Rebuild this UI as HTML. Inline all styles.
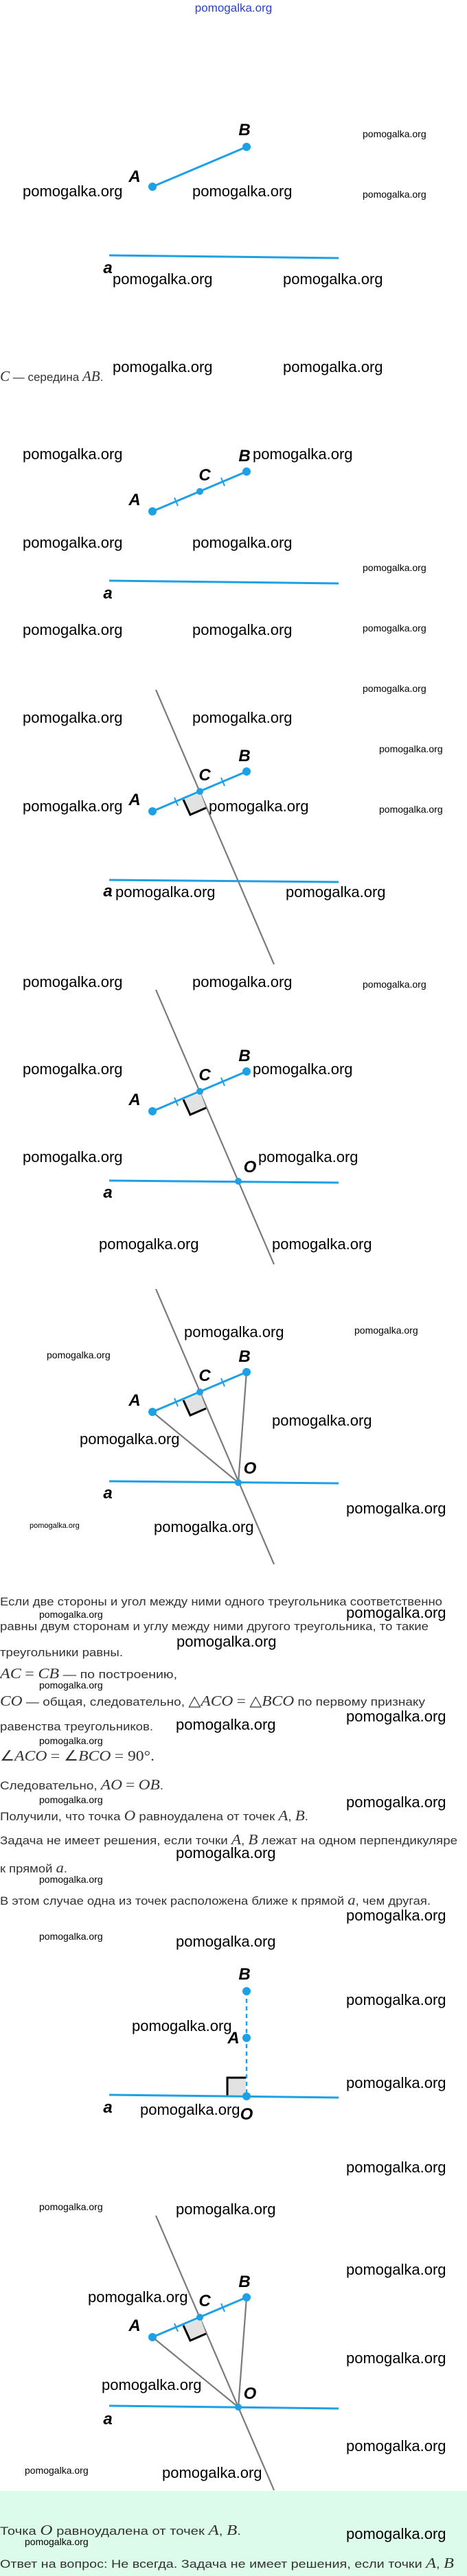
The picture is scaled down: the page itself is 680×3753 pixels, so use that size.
<!DOCTYPE html>
<html><head><meta charset="utf-8"><style>
html,body{margin:0;padding:0;background:#fff;}
svg{display:block;}
.wb{font-family:"Liberation Sans",sans-serif;font-size:22px;fill:#000;}
.ws{font-family:"Liberation Sans",sans-serif;font-size:14px;fill:#000;}
.wt{font-family:"Liberation Sans",sans-serif;font-size:11px;fill:#000;}
.lb{font-family:"Liberation Sans",sans-serif;font-size:24px;font-weight:bold;font-style:italic;fill:#000;}
.tx{font-family:"Liberation Sans","DejaVu Sans",sans-serif;font-size:17px;fill:#333;}
.m{font-family:"Liberation Serif",serif;font-style:italic;font-size:21px;}
.mn{font-family:"Liberation Serif",serif;font-size:21px;}
.bl{stroke:#1ea0e6;stroke-width:3;fill:none;}
.gr{stroke:#7a7a7a;stroke-width:2.2;fill:none;}
.dot{fill:#1ea0e6;}
</style></head><body>
<svg width="680" height="3753" xmlns="http://www.w3.org/2000/svg">
<defs>
<g id="ab">
  <line x1="222" y1="0" x2="359" y2="-58" class="bl"/>
  <circle cx="222" cy="0" r="6" class="dot"/>
  <circle cx="359" cy="-58" r="6" class="dot"/>
</g>
<g id="abc">
  <line x1="222" y1="0" x2="359" y2="-58" class="bl"/>
  <line x1="254" y1="-20" x2="259" y2="-8" stroke="#1ea0e6" stroke-width="2"/>
  <line x1="322" y1="-49" x2="327" y2="-37" stroke="#1ea0e6" stroke-width="2"/>
  <circle cx="222" cy="0" r="6" class="dot"/>
  <circle cx="291" cy="-29" r="5" class="dot"/>
  <circle cx="359" cy="-58" r="6" class="dot"/>
  <text x="196" y="-9" class="lb" text-anchor="middle">A</text>
  <text x="298" y="-45" class="lb" text-anchor="middle">C</text>
  <text x="356" y="-73" class="lb" text-anchor="middle">B</text>
</g>
<g id="sq">
  <polygon points="292,-27 267,-17 277,5 300,-5" fill="#e2e2e2"/>
  <polyline points="267,-17 277,5 300,-5" fill="none" stroke="#000" stroke-width="3"/>
</g>
</defs>

<text x="340" y="17" text-anchor="middle" style="font-family:'Liberation Sans',sans-serif;font-size:17px;fill:#2a3fd8">pomogalka.org</text>

<!-- Diagram 1 -->
<use href="#ab" y="272"/>
<text x="196" y="265" class="lb" text-anchor="middle">A</text>
<text x="356" y="197" class="lb" text-anchor="middle">B</text>
<line x1="159" y1="372" x2="493" y2="376" class="bl"/>
<text x="157" y="398" class="lb" text-anchor="middle">a</text>
<text x="33" y="286" class="wb">pomogalka.org</text>
<text x="280" y="286" class="wb">pomogalka.org</text>
<text x="528" y="200" class="ws">pomogalka.org</text>
<text x="528" y="288" class="ws">pomogalka.org</text>
<text x="164" y="414" class="wb">pomogalka.org</text>
<text x="412" y="414" class="wb">pomogalka.org</text>
<text x="164" y="542" class="wb">pomogalka.org</text>
<text x="412" y="542" class="wb">pomogalka.org</text>
<text x="0" y="555" class="tx"><tspan class="m">C</tspan> — середина <tspan class="m">AB</tspan>.</text>

<!-- Diagram 2 -->
<use href="#abc" y="745"/>
<line x1="159" y1="846" x2="493" y2="850" class="bl"/>
<text x="157" y="872" class="lb" text-anchor="middle">a</text>
<text x="33" y="669" class="wb">pomogalka.org</text>
<text x="368" y="669" class="wb">pomogalka.org</text>
<text x="33" y="798" class="wb">pomogalka.org</text>
<text x="280" y="798" class="wb">pomogalka.org</text>
<text x="528" y="832" class="ws">pomogalka.org</text>
<text x="33" y="925" class="wb">pomogalka.org</text>
<text x="280" y="925" class="wb">pomogalka.org</text>
<text x="528" y="920" class="ws">pomogalka.org</text>
<text x="528" y="1008" class="ws">pomogalka.org</text>

<!-- Diagram 3 -->
<line x1="227" y1="1005" x2="399" y2="1405" class="gr"/>
<use href="#sq" y="1182"/>
<use href="#abc" y="1182"/>
<line x1="159" y1="1282" x2="493" y2="1285" class="bl"/>
<text x="157" y="1306" class="lb" text-anchor="middle">a</text>
<text x="33" y="1053" class="wb">pomogalka.org</text>
<text x="280" y="1053" class="wb">pomogalka.org</text>
<text x="552" y="1096" class="ws">pomogalka.org</text>
<text x="33" y="1182" class="wb">pomogalka.org</text>
<text x="304" y="1182" class="wb">pomogalka.org</text>
<text x="552" y="1184" class="ws">pomogalka.org</text>
<text x="168" y="1307" class="wb">pomogalka.org</text>
<text x="416" y="1307" class="wb">pomogalka.org</text>

<!-- Diagram 4 -->
<line x1="227" y1="1442" x2="399" y2="1842" class="gr"/>
<use href="#sq" y="1619"/>
<use href="#abc" y="1619"/>
<line x1="159" y1="1720" x2="493" y2="1723" class="bl"/>
<circle cx="347" cy="1721" r="5" class="dot"/>
<text x="364" y="1708" class="lb" text-anchor="middle">O</text>
<text x="157" y="1745" class="lb" text-anchor="middle">a</text>
<text x="33" y="1438" class="wb">pomogalka.org</text>
<text x="280" y="1438" class="wb">pomogalka.org</text>
<text x="528" y="1439" class="ws">pomogalka.org</text>
<text x="33" y="1565" class="wb">pomogalka.org</text>
<text x="368" y="1565" class="wb">pomogalka.org</text>
<text x="33" y="1693" class="wb">pomogalka.org</text>
<text x="376" y="1693" class="wb">pomogalka.org</text>
<text x="144" y="1820" class="wb">pomogalka.org</text>
<text x="396" y="1820" class="wb">pomogalka.org</text>

<!-- Diagram 5 -->
<line x1="227" y1="1878" x2="399" y2="2279" class="gr"/>
<line x1="222" y1="2057" x2="347" y2="2160" class="gr"/>
<line x1="359" y1="1998" x2="347" y2="2160" class="gr"/>
<use href="#sq" y="2057"/>
<use href="#abc" y="2057"/>
<line x1="159" y1="2158" x2="493" y2="2161" class="bl"/>
<circle cx="347" cy="2160" r="5" class="dot"/>
<text x="364" y="2147" class="lb" text-anchor="middle">O</text>
<text x="157" y="2183" class="lb" text-anchor="middle">a</text>
<text x="268" y="1948" class="wb">pomogalka.org</text>
<text x="516" y="1943" class="ws">pomogalka.org</text>
<text x="68" y="1979" class="ws">pomogalka.org</text>
<text x="396" y="2077" class="wb">pomogalka.org</text>
<text x="116" y="2104" class="wb">pomogalka.org</text>
<text x="504" y="2205" class="wb">pomogalka.org</text>
<text x="43" y="2226" class="wt">pomogalka.org</text>
<text x="224" y="2232" class="wb">pomogalka.org</text>

<!-- Text block -->
<text x="0" y="2339" class="tx" textLength="644" lengthAdjust="spacingAndGlyphs">Если две стороны и угол между ними одного треугольника соответственно</text>
<text x="57" y="2357" class="ws">pomogalka.org</text>
<text x="504" y="2357" class="wb">pomogalka.org</text>
<text x="0" y="2375" class="tx" textLength="624" lengthAdjust="spacingAndGlyphs">равны двум сторонам и углу между ними другого треугольника, то такие</text>
<text x="257" y="2399" class="wb">pomogalka.org</text>
<text x="0" y="2413" class="tx" textLength="179" lengthAdjust="spacingAndGlyphs">треугольники равны.</text>
<text x="0" y="2445" class="tx" textLength="258" lengthAdjust="spacingAndGlyphs"><tspan class="m">AC</tspan> <tspan class="mn">=</tspan> <tspan class="m">CB</tspan> — по построению,</text>
<text x="57" y="2460" class="ws">pomogalka.org</text>
<text x="0" y="2485" class="tx" textLength="619" lengthAdjust="spacingAndGlyphs"><tspan class="m">CO</tspan> — общая, следовательно, <tspan class="mn">△</tspan><tspan class="m">ACO</tspan> <tspan class="mn">=</tspan> <tspan class="mn">△</tspan><tspan class="m">BCO</tspan> по первому признаку</text>
<text x="504" y="2508" class="wb">pomogalka.org</text>
<text x="0" y="2521" class="tx" textLength="223" lengthAdjust="spacingAndGlyphs">равенства треугольников.</text>
<text x="256" y="2520" class="wb">pomogalka.org</text>
<text x="57" y="2541" class="ws">pomogalka.org</text>
<text x="0" y="2565" class="tx" textLength="225" lengthAdjust="spacingAndGlyphs"><tspan class="mn">∠</tspan><tspan class="m">ACO</tspan> <tspan class="mn">= ∠</tspan><tspan class="m">BCO</tspan> <tspan class="mn">= 90°.</tspan></text>
<text x="0" y="2607" class="tx" textLength="238" lengthAdjust="spacingAndGlyphs">Следовательно, <tspan class="m">AO</tspan> <tspan class="mn">=</tspan> <tspan class="m">OB</tspan>.</text>
<text x="57" y="2627" class="ws">pomogalka.org</text>
<text x="504" y="2633" class="wb">pomogalka.org</text>
<text x="0" y="2652" class="tx" textLength="449" lengthAdjust="spacingAndGlyphs">Получили, что точка <tspan class="m">O</tspan> равноудалена от точек <tspan class="m">A</tspan>,  <tspan class="m">B</tspan>.</text>
<text x="0" y="2687" class="tx" textLength="666" lengthAdjust="spacingAndGlyphs">Задача не имеет решения, если точки <tspan class="m">A</tspan>,  <tspan class="m">B</tspan> лежат на одном перпендикуляре</text>
<text x="256" y="2707" class="wb">pomogalka.org</text>
<text x="0" y="2728" class="tx" textLength="98" lengthAdjust="spacingAndGlyphs">к прямой <tspan class="m">a</tspan>.</text>
<text x="57" y="2743" class="ws">pomogalka.org</text>
<text x="0" y="2775" class="tx" textLength="627" lengthAdjust="spacingAndGlyphs">В этом случае одна из точек расположена ближе к прямой <tspan class="m">a</tspan>, чем другая.</text>
<text x="504" y="2798" class="wb">pomogalka.org</text>
<text x="57" y="2826" class="ws">pomogalka.org</text>
<text x="256" y="2836" class="wb">pomogalka.org</text>

<!-- Diagram 6 -->
<line x1="359" y1="2901" x2="359" y2="3054" stroke="#1ea0e6" stroke-width="2.5" stroke-dasharray="6,5"/>
<rect x="331" y="3027" width="27" height="26" fill="#e2e2e2"/>
<polyline points="331,3053 331,3027 358,3027" fill="none" stroke="#000" stroke-width="3"/>
<line x1="159" y1="3052" x2="493" y2="3056" class="bl"/>
<circle cx="359" cy="2901" r="6" class="dot"/>
<circle cx="359" cy="2969" r="6" class="dot"/>
<circle cx="359" cy="3054" r="6" class="dot"/>
<text x="356" y="2884" class="lb" text-anchor="middle">B</text>
<text x="340" y="2977" class="lb" text-anchor="middle">A</text>
<text x="359" y="3088" class="lb" text-anchor="middle">O</text>
<text x="157" y="3078" class="lb" text-anchor="middle">a</text>
<text x="504" y="2921" class="wb">pomogalka.org</text>
<text x="192" y="2959" class="wb">pomogalka.org</text>
<text x="504" y="3042" class="wb">pomogalka.org</text>
<text x="204" y="3081" class="wb">pomogalka.org</text>
<text x="504" y="3165" class="wb">pomogalka.org</text>

<!-- Diagram 7 -->
<line x1="227" y1="3228" x2="399" y2="3628" class="gr"/>
<line x1="222" y1="3405" x2="347" y2="3507" class="gr"/>
<line x1="359" y1="3347" x2="347" y2="3507" class="gr"/>
<use href="#sq" y="3405"/>
<use href="#abc" y="3405"/>
<line x1="159" y1="3505" x2="493" y2="3509" class="bl"/>
<circle cx="347" cy="3507" r="5" class="dot"/>
<text x="364" y="3495" class="lb" text-anchor="middle">O</text>
<text x="157" y="3532" class="lb" text-anchor="middle">a</text>
<text x="57" y="3220" class="ws">pomogalka.org</text>
<text x="256" y="3226" class="wb">pomogalka.org</text>
<text x="504" y="3314" class="wb">pomogalka.org</text>
<text x="128" y="3354" class="wb">pomogalka.org</text>
<text x="504" y="3443" class="wb">pomogalka.org</text>
<text x="148" y="3482" class="wb">pomogalka.org</text>
<text x="504" y="3571" class="wb">pomogalka.org</text>
<text x="36" y="3604" class="ws">pomogalka.org</text>
<text x="236" y="3610" class="wb">pomogalka.org</text>

<!-- Answer block -->
<rect x="0" y="3629" width="680" height="124" fill="#ddfbea"/>
<text x="0" y="3693" class="tx" textLength="351" lengthAdjust="spacingAndGlyphs">Точка <tspan class="m">O</tspan> равноудалена от точек <tspan class="m">A</tspan>,  <tspan class="m">B</tspan>.</text>
<text x="504" y="3699" class="wb">pomogalka.org</text>
<text x="36" y="3708" class="ws">pomogalka.org</text>
<text x="0" y="3741" class="tx" textLength="661" lengthAdjust="spacingAndGlyphs">Ответ на вопрос: Не всегда. Задача не имеет решения, если точки <tspan class="m">A</tspan>,  <tspan class="m">B</tspan></text>
</svg>
</body></html>
